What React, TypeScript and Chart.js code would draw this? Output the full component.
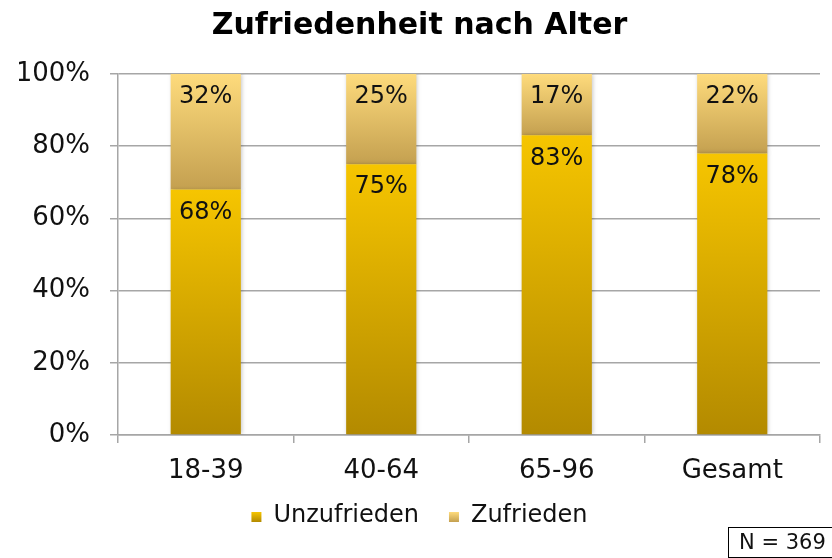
import React, { useEffect, useRef } from "react";
import { Chart, registerables } from "chart.js";

Chart.register(...registerables);

const categories = ["18-39", "40-64", "65-96", "Gesamt"];
const unzufrieden = [68, 75, 83, 78];
const zufrieden = [32, 25, 17, 22];
const seriesNames = ["Unzufrieden", "Zufrieden"];
const yTicks = [0, 20, 40, 60, 80, 100];
const titleText = "Zufriedenheit nach Alter";
const noteText = "N = 369";

const FONT = "'DejaVu Sans', Verdana, sans-serif";

const UNZ_TOP = "#f6c500";
const UNZ_BOT = "#b38a00";
const ZUF_TOP = "#fedb7c";
const ZUF_BOT = "#c4a050";

function makeGradient(ctx: any, top: number, bottom: number, cTop: string, cBot: string) {
  const g = ctx.createLinearGradient(0, top, 0, bottom);
  g.addColorStop(0, cTop);
  g.addColorStop(1, cBot);
  return g;
}

const labelPlugin = {
  id: "segLabels",
  afterDatasetsDraw(chart: any) {
    const ctx = chart.ctx;
    ctx.save();
    ctx.font = `24px ${FONT}`;
    ctx.fillStyle = "#111";
    ctx.textAlign = "center";
    ctx.textBaseline = "middle";
    chart.data.datasets.forEach((ds: any, di: number) => {
      const meta = chart.getDatasetMeta(di);
      meta.data.forEach((el: any, i: number) => {
        const v = ds.data[i];
        const top = Math.min(el.y, el.base);
        ctx.fillText(`${v}%`, el.x, top + 23);
      });
    });
    ctx.restore();
  },
};

const legendPlugin = {
  id: "customLegend",
  afterDraw(chart: any) {
    const ctx = chart.ctx;
    const cy = 516;
    const box = 10;
    const gapText = 12;
    const gapItems = 30;
    ctx.save();
    ctx.font = `24px ${FONT}`;
    ctx.textBaseline = "middle";
    ctx.textAlign = "left";
    const widths = seriesNames.map((n) => ctx.measureText(n).width);
    const total =
      widths.reduce((a, w) => a + w + box + gapText, 0) + gapItems * (seriesNames.length - 1);
    const center = (chart.chartArea.left - 99 + chart.chartArea.right) / 2;
    let x = center - total / 2;
    const cols = [
      [UNZ_TOP, UNZ_BOT],
      [ZUF_TOP, ZUF_BOT],
    ];
    seriesNames.forEach((n, i) => {
      const top = cy - box / 2 + 1;
      ctx.fillStyle = makeGradient(ctx, top, top + box, cols[i][0], cols[i][1]);
      ctx.fillRect(x, top, box, box);
      x += box + gapText;
      ctx.fillStyle = "#111";
      ctx.fillText(n, x, cy);
      x += widths[i] + gapItems;
    });
    ctx.restore();
  },
};

const shadowPlugin = {
  id: "barShadow",
  beforeDatasetDraw(chart: any) {
    const ctx = chart.ctx;
    ctx.save();
    ctx.shadowColor = "rgba(0,0,0,0.22)";
    ctx.shadowBlur = 4;
    ctx.shadowOffsetX = 1;
    ctx.shadowOffsetY = 0;
  },
  afterDatasetDraw(chart: any) {
    chart.ctx.restore();
  },
};

export default function App() {
  const ref = useRef<HTMLCanvasElement>(null);

  useEffect(() => {
    document.body.style.margin = "0";
    const canvas = ref.current!;
    const chart = new Chart(canvas, {
      type: "bar",
      data: {
        labels: categories,
        datasets: [
          {
            label: seriesNames[0],
            data: unzufrieden,
            backgroundColor: (c: any) => {
              if (c.type !== "data" || !c.chart.chartArea) return "#d4a800";
              const y = c.chart.scales.y;
              const top = y.getPixelForValue(unzufrieden[c.dataIndex]);
              const bot = y.getPixelForValue(0);
              return makeGradient(c.chart.ctx, top, bot, UNZ_TOP, UNZ_BOT);
            },
            borderWidth: 0,
            barPercentage: 0.4,
            categoryPercentage: 1,
          },
          {
            label: seriesNames[1],
            data: zufrieden,
            backgroundColor: (c: any) => {
              if (c.type !== "data" || !c.chart.chartArea) return "#e6c068";
              const y = c.chart.scales.y;
              const top = y.getPixelForValue(100);
              const bot = y.getPixelForValue(unzufrieden[c.dataIndex]);
              return makeGradient(c.chart.ctx, top, bot, ZUF_TOP, ZUF_BOT);
            },
            borderWidth: 0,
            barPercentage: 0.4,
            categoryPercentage: 1,
          },
        ],
      },
      options: {
        responsive: false,
        animation: false,
        layout: { padding: { left: 19, right: 12, top: 0, bottom: 63 } },
        plugins: {
          title: {
            display: true,
            text: titleText,
            color: "#000",
            font: { family: FONT, size: 30, weight: "bold", lineHeight: 1.2 },
            padding: { top: 8, bottom: 30 },
          },
          legend: { display: false },
          tooltip: { enabled: false },
        },
        scales: {
          x: {
            stacked: true,
            afterFit: (s: any) => {
              s.height = 60;
            },
            grid: {
              display: true,
              drawOnChartArea: false,
              offset: true,
              color: "#a6a6a6",
              lineWidth: 1.5,
              tickLength: 8,
            },
            border: { display: true, color: "#a6a6a6", width: 1.5 },
            ticks: {
              color: "#111",
              font: { family: FONT, size: 26 },
              padding: 13,
              maxRotation: 0,
            },
          },
          y: {
            stacked: true,
            min: 0,
            max: 100,
            afterFit: (s: any) => {
              s.width = 99;
            },
            afterBuildTicks: (s: any) => {
              s.ticks = yTicks.map((v) => ({ value: v }));
            },
            grid: {
              color: "#a6a6a6",
              lineWidth: 1.5,
              tickLength: 8,
            },
            border: { display: true, color: "#a6a6a6", width: 1.5 },
            ticks: {
              color: "#111",
              font: { family: FONT, size: 26 },
              padding: 20,
              callback: (v: any) => `${v}%`,
            },
          },
        },
      },
      plugins: [shadowPlugin, labelPlugin, legendPlugin],
    });
    return () => chart.destroy();
  }, []);

  return (
    <div style={{ position: "relative", width: 832, height: 558, background: "#fff" }}>
      <canvas ref={ref} width={832} height={558} style={{ position: "absolute", left: 0, top: 0 }} />
      <div
        style={{
          position: "absolute",
          left: 728,
          top: 527,
          width: 110,
          height: 31,
          boxSizing: "border-box",
          border: "1px solid #000",
          fontFamily: FONT,
          fontSize: 21,
          lineHeight: "29px",
          paddingLeft: 10,
          color: "#111",
          whiteSpace: "nowrap",
        }}
      >
        {noteText}
      </div>
    </div>
  );
}
